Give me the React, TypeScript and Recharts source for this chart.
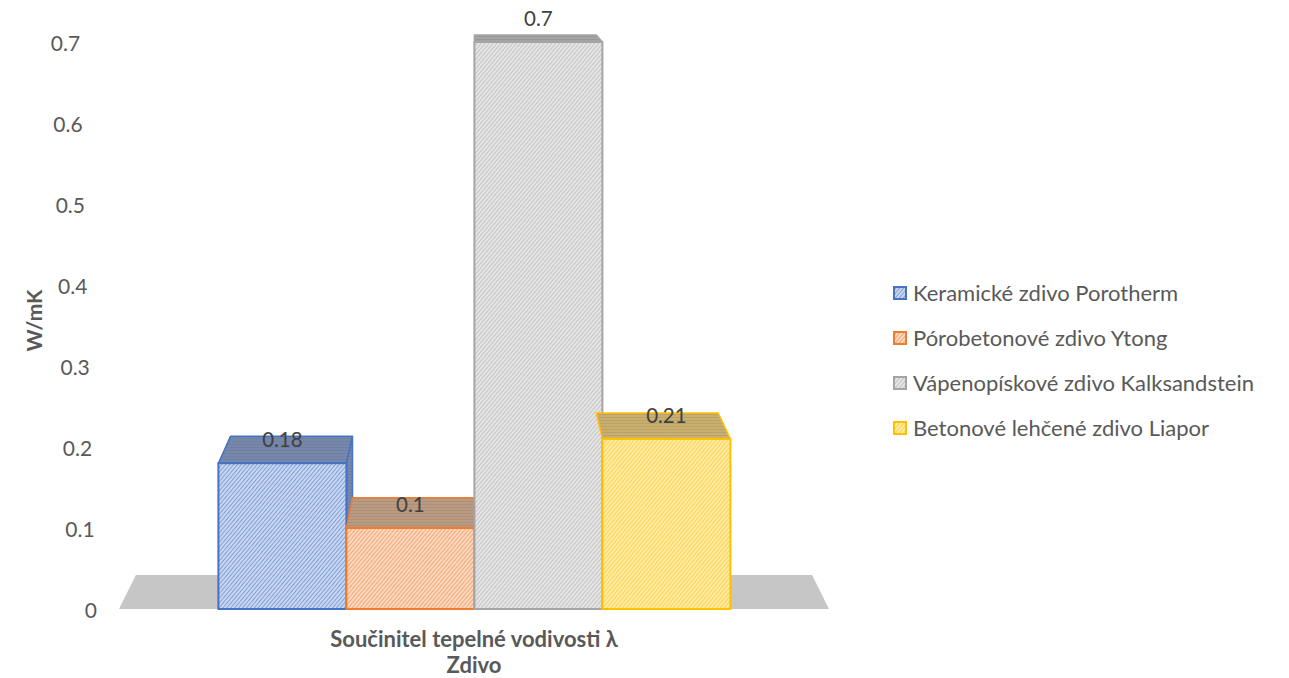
import { BarChart, Bar, XAxis, YAxis, LabelList, ReferenceArea } from 'recharts';

const categories = ['Součinitel tepelné vodivosti λ'];
const seriesNames = [
    'Keramické zdivo Porotherm',
    'Pórobetonové zdivo Ytong',
    'Vápenopískové zdivo Kalksandstein',
    'Betonové lehčené zdivo Liapor',
];
const seriesValues = [0.18, 0.1, 0.7, 0.21];
const yTicks = [0, 0.1, 0.2, 0.3, 0.4, 0.5, 0.6, 0.7];
const yAxisTitle = 'W/mK';
const xAxisTitle = 'Zdivo';

const colors = ['#4472C4', '#ED7D31', '#A5A5A5', '#FFC000'];
const tints = ['#c9d7f0', '#fbd9c2', '#e6e6e6', '#ffeaa8'];
const topShades = ['#7587aa', '#bb9a82', '#a4a4a4', '#c9ae6e'];

const FONT = 'Lato, "Open Sans", sans-serif';

const W = 1289;
const H = 678;
const PLOT_LEFT = 119;
const PLOT_TOP = 42;
const PLOT_RIGHT = 829;
const X_AXIS_H = 69;

// fake 3D: every face recedes toward this vanishing point
const VP_X = (PLOT_LEFT + PLOT_RIGHT) / 2;
const VP_Y = PLOT_TOP - 147;
const DEPTH = 0.0476;

const back = (x: number, y: number) => [x + DEPTH * (VP_X - x), y + DEPTH * (VP_Y - y)];

const data = categories.map((name, c) => {
    const row: Record<string, string | number> = { name };
    seriesValues.forEach((v, i) => { row['s' + i] = c === 0 ? v : 0; });
    return row;
});

const makeBox = (i: number) => (props: any) => {
    const { x, y, width: w, height: h } = props;
    const [ax, ay] = back(x, y);
    const [bx, by] = back(x + w, y);
    const [cx, cy] = back(x + w, y + h);
    const c = colors[i];
    return (
        <g>
            {x + w < VP_X && (
                <polygon
                    points={`${x + w},${y} ${bx},${by} ${cx},${cy} ${x + w},${y + h}`}
                    fill={`url(#top${i})`}
                    stroke={c}
                    strokeWidth={1.5}
                />
            )}
            <polygon
                points={`${x},${y} ${x + w},${y} ${bx},${by} ${ax},${ay}`}
                fill={`url(#top${i})`}
                stroke={c}
                strokeWidth={1.5}
                strokeLinejoin="round"
            />
            <rect x={x} y={y} width={w} height={h} fill={`url(#hatch${i})`} stroke={c} strokeWidth={2} />
        </g>
    );
};

const renderLabel = (props: any) => {
    const { x, y, width, value } = props;
    const v = Number(value);
    const [, by] = back(x, y);
    const mid = (y + by) / 2;
    return (
        <text
            x={x + width / 2}
            y={mid - (7 + 20 * v)}
            textAnchor="middle"
            dominantBaseline="central"
            fill="#404040"
            fontSize={20.5}
            fontFamily={FONT}
        >
            {v}
        </text>
    );
};

const Floor = (props: any) => {
    const { x, y, width, height } = props;
    const yb = y + height;
    const [lx, ly] = back(x, yb);
    const [rx, ry] = back(x + width, yb);
    return <polygon points={`${x},${yb} ${x + width},${yb} ${rx},${ry} ${lx},${ly}`} fill="#c6c6c6" />;
};

const YTick = (props: any) => {
    const { x, y, payload } = props;
    const v = Number(payload.value);
    return (
        <text x={x - 22 - 24 * v} y={y} textAnchor="end" dominantBaseline="central" fill="#595959" fontSize={21} fontFamily={FONT}>
            {payload.value}
        </text>
    );
};

const XTick = (props: any) => {
    const { x, y, payload } = props;
    return (
        <text x={x} y={y + 29} textAnchor="middle" dominantBaseline="central" fill="#595959" fontSize={22} fontWeight="bold" fontFamily={FONT}>
            {payload.value}
        </text>
    );
};

export default function App() {
    return (
        <div style={{ position: 'absolute', left: 0, top: 0, width: W, height: H, background: '#fff', fontFamily: FONT }}>
            <svg width={0} height={0} style={{ position: 'absolute' }}>
                <defs>
                    {colors.map((c, i) => (
                        <pattern key={'h' + i} id={'hatch' + i} width={3} height={3} patternUnits="userSpaceOnUse" patternTransform="rotate(40)">
                            <rect width={3} height={3} fill={tints[i]} />
                            <line x1={0.5} y1={0} x2={0.5} y2={3} stroke={c} strokeWidth={1} strokeOpacity={0.55} />
                        </pattern>
                    ))}
                    {colors.map((c, i) => (
                        <pattern key={'t' + i} id={'top' + i} width={3} height={3} patternUnits="userSpaceOnUse" patternTransform="rotate(90)">
                            <rect width={3} height={3} fill={topShades[i]} />
                            <line x1={0.5} y1={0} x2={0.5} y2={3} stroke="#555" strokeWidth={1} strokeOpacity={0.15} />
                        </pattern>
                    ))}
                </defs>
            </svg>

            <BarChart
                width={W}
                height={H}
                data={data}
                margin={{ top: PLOT_TOP, right: W - PLOT_RIGHT, left: 0, bottom: 0 }}
                barCategoryGap="14%"
                barGap={0}
            >
                <ReferenceArea y1={0} y2={0.01} shape={Floor} ifOverflow="visible" />
                <XAxis
                    dataKey="name"
                    height={X_AXIS_H}
                    axisLine={false}
                    tickLine={false}
                    tickSize={0}
                    tickMargin={0}
                    tick={<XTick />}
                    label={{
                        value: xAxisTitle,
                        content: ({ viewBox }: any) => (
                            <text
                                x={viewBox.x + viewBox.width / 2}
                                y={viewBox.y + 55}
                                textAnchor="middle"
                                dominantBaseline="central"
                                fill="#595959"
                                fontSize={22}
                                fontWeight="bold"
                                fontFamily={FONT}
                            >
                                {xAxisTitle}
                            </text>
                        ),
                    }}
                />
                <YAxis
                    width={PLOT_LEFT}
                    domain={[0, 0.7]}
                    ticks={yTicks}
                    axisLine={false}
                    tickLine={false}
                    tickSize={0}
                    tickMargin={0}
                    tick={<YTick />}
                    label={{
                        value: yAxisTitle,
                        content: ({ viewBox }: any) => (
                            <text
                                transform={`translate(${viewBox.x + 33}, ${viewBox.y + viewBox.height / 2 - 5}) rotate(-90)`}
                                textAnchor="middle"
                                dominantBaseline="central"
                                fill="#595959"
                                fontSize={21}
                                fontWeight="bold"
                                fontFamily={FONT}
                            >
                                {yAxisTitle}
                            </text>
                        ),
                    }}
                />
                {seriesNames.map((n, i) => (
                    <Bar
                        key={n}
                        dataKey={'s' + i}
                        name={n}
                        fill={`url(#hatch${i})`}
                        shape={makeBox(i)}
                        isAnimationActive={false}
                    >
                        <LabelList dataKey={'s' + i} content={renderLabel} />
                    </Bar>
                ))}
            </BarChart>

            {/* legend kept outside the chart so it does not eat into the plot area */}
            <div style={{ position: 'absolute', left: 893, top: 270, fontSize: 22, color: '#595959' }}>
                {seriesNames.map((n, i) => (
                    <div key={n} style={{ display: 'flex', alignItems: 'center', height: 45 }}>
                        <svg width={14} height={14}>
                            <rect x={1} y={1} width={12} height={12} fill={`url(#hatch${i})`} stroke={colors[i]} strokeWidth={2} />
                        </svg>
                        <span style={{ marginLeft: 6, whiteSpace: 'nowrap' }}>{n}</span>
                    </div>
                ))}
            </div>
        </div>
    );
}
